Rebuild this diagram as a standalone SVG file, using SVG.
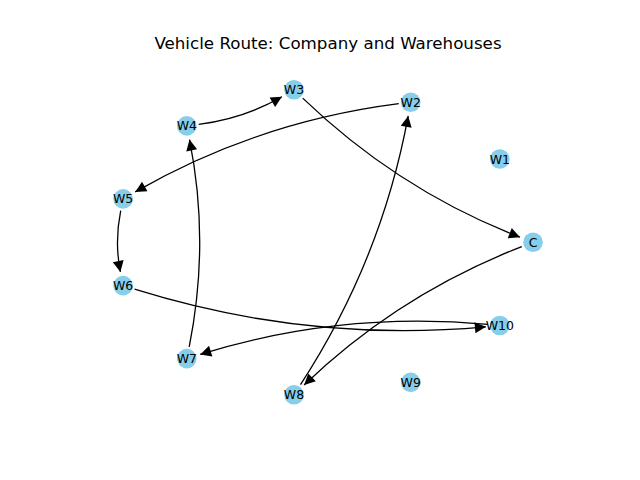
<svg xmlns="http://www.w3.org/2000/svg" width="640" height="480" viewBox="0 0 640 480">
<style>
.e{fill:none;stroke:#000;stroke-width:1.3;marker-end:url(#ah)}
.n circle{fill:#87CEEB}
.n text{font-family:"DejaVu Sans",sans-serif;font-size:12.5px;text-anchor:middle;fill:#000}
.t{font-family:"DejaVu Sans",sans-serif;font-size:16.7px;text-anchor:middle;fill:#000}
</style>
<defs>
<marker id="ah" markerUnits="userSpaceOnUse" viewBox="-12 -6 13 12" refX="0" refY="0" markerWidth="13" markerHeight="12" orient="auto">
<path d="M0,0 L-11,-5.5 L-11,5.5 Z" fill="#000"/>
</marker>
</defs>
<rect width="640" height="480" fill="#fff"/>
<text class="t" x="328" y="49">Vehicle Route: Company and Warehouses</text>
<g id="edges">
<path class="e" d="M198.7,124.4 Q244.0,118.6 281.9,96.8"/>
<path class="e" d="M302.7,98.1 Q398.3,190.0 520.0,237.2"/>
<path class="e" d="M521.8,246.6 Q398.3,294.6 304.1,385.0"/>
<path class="e" d="M300.5,384.6 Q381.6,260.1 408.2,115.9"/>
<path class="e" d="M398.8,103.7 Q257.2,121.8 135.2,191.9"/>
<path class="e" d="M120.7,210.7 Q114.4,242.3 120.4,271.9"/>
<path class="e" d="M134.6,289.2 Q307.5,343.2 485.9,326.8"/>
<path class="e" d="M487.9,324.4 Q340.0,310.8 200.2,354.4"/>
<path class="e" d="M189.2,346.8 Q210.1,242.3 189.5,139.6"/>
</g>
<g id="C" class="n"><circle cx="533.0" cy="242.3" r="9.8"/><text x="533.0" y="246.8">C</text></g>
<g id="W1" class="n"><circle cx="499.8" cy="159.0" r="9.8"/><text x="499.8" y="163.5">W1</text></g>
<g id="W2" class="n"><circle cx="410.7" cy="102.2" r="9.8"/><text x="410.7" y="106.7">W2</text></g>
<g id="W3" class="n"><circle cx="294.0" cy="89.8" r="9.8"/><text x="294.0" y="94.3">W3</text></g>
<g id="W4" class="n"><circle cx="186.8" cy="125.9" r="9.8"/><text x="186.8" y="130.4">W4</text></g>
<g id="W5" class="n"><circle cx="123.1" cy="198.9" r="9.8"/><text x="123.1" y="203.4">W5</text></g>
<g id="W6" class="n"><circle cx="123.1" cy="285.6" r="9.8"/><text x="123.1" y="290.1">W6</text></g>
<g id="W7" class="n"><circle cx="186.8" cy="358.6" r="9.8"/><text x="186.8" y="363.1">W7</text></g>
<g id="W8" class="n"><circle cx="294.0" cy="394.7" r="9.8"/><text x="294.0" y="399.2">W8</text></g>
<g id="W9" class="n"><circle cx="410.7" cy="382.4" r="9.8"/><text x="410.7" y="386.9">W9</text></g>
<g id="W10" class="n"><circle cx="499.8" cy="325.5" r="9.8"/><text x="499.8" y="330.0">W10</text></g>
</svg>
